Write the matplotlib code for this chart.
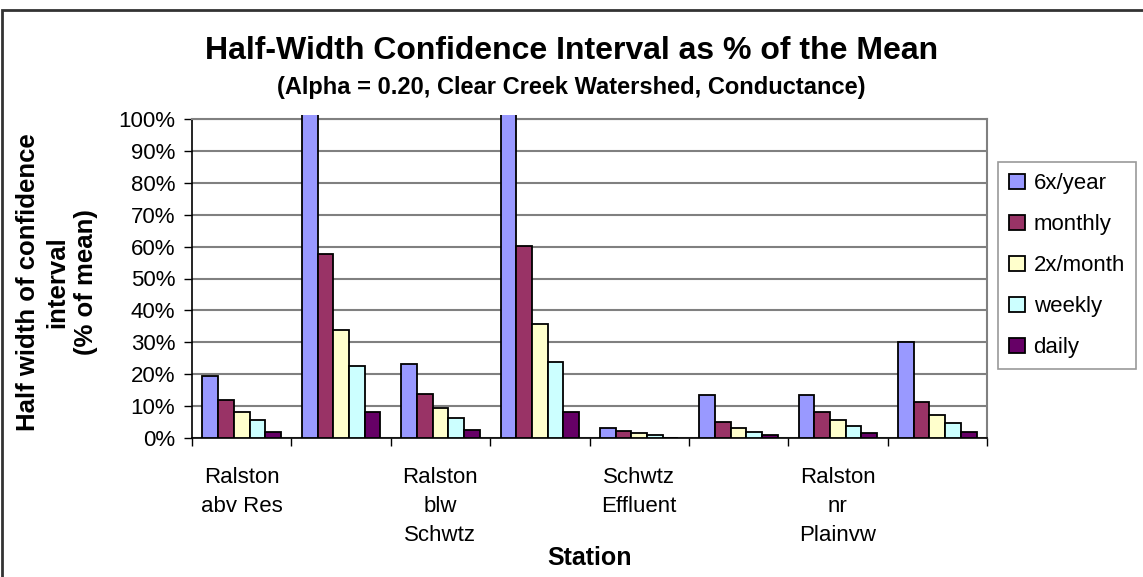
import numpy as np
import matplotlib.pyplot as plt
from matplotlib.patches import Rectangle

# stations (only every other name is printed on the axis)
stations = ['Ralston\nabv Res', '', 'Ralston\nblw\nSchwtz', '', 'Schwtz\nEffluent', '', 'Ralston\nnr\nPlainvw', '']
frequencies = ['6x/year', 'monthly', '2x/month', 'weekly', 'daily']

# half-width of the confidence interval, fraction of the mean
six_per_year = [0.194, 1.50, 0.232, 1.50, 0.032, 0.134, 0.134, 0.302]
monthly = [0.119, 0.577, 0.138, 0.602, 0.021, 0.051, 0.082, 0.113]
twice_month = [0.082, 0.339, 0.095, 0.357, 0.015, 0.032, 0.057, 0.071]
weekly = [0.056, 0.227, 0.064, 0.238, 0.009, 0.020, 0.039, 0.046]
daily = [0.020, 0.082, 0.025, 0.082, 0.0, 0.008, 0.015, 0.020]

series = [six_per_year, monthly, twice_month, weekly, daily]
colors = ['#9999FF', '#993366', '#FFFFCC', '#CCFFFF', '#660066']

plt.rcParams['font.family'] = ['Liberation Sans', 'DejaVu Sans']

fig = plt.figure(figsize=(11.43, 5.77), dpi=100)
ax = fig.add_axes([192/1143, 1 - 438/577, (987 - 192)/1143, (438 - 119)/577])

# bars that run past 100% get cut just above the plot area
clip = Rectangle((0, 0), 1, 1.013, transform=ax.transAxes)

x = np.arange(len(stations))
w = 0.158
for i, (vals, c, lab) in enumerate(zip(series, colors, frequencies)):
    bars = ax.bar(x + (i - 2) * w, vals, w, color=c, edgecolor='black',
                  linewidth=1.3, label=lab, zorder=3)
    for b in bars:
        b.set_clip_path(clip)

ax.set_xlim(-0.5, len(stations) - 0.5)
ax.set_ylim(0, 1)
ax.set_yticks(np.arange(0, 1.01, 0.1))
ax.set_yticklabels(['%d%%' % v for v in range(0, 101, 10)], fontsize=16)
ax.yaxis.grid(True, color='#808080', linewidth=1.5, zorder=0)

ax.set_xticks(np.arange(-0.5, len(stations)), minor=False)
ax.set_xticklabels([])
ax.set_xticks(x, minor=True)
ax.set_xticklabels(stations, minor=True, fontsize=16, linespacing=1.5, va='top')
ax.tick_params(axis='x', which='minor', length=0, pad=21)
ax.tick_params(axis='x', which='major', length=6, width=1, direction='out')
ax.tick_params(axis='y', length=6, width=1, direction='out', pad=6)

for s in ['left', 'bottom']:
    ax.spines[s].set_color('black')
    ax.spines[s].set_linewidth(1.2)
for s in ['right', 'top']:
    ax.spines[s].set_color('#808080')
    ax.spines[s].set_linewidth(1.5)

fig.text(0.5, 1 - 51/577, 'Half-Width Confidence Interval as % of the Mean',
         ha='center', va='center', fontsize=23, fontweight='bold')
fig.text(0.5, 1 - 87/577, '(Alpha = 0.20, Clear Creek Watershed, Conductance)',
         ha='center', va='center', fontsize=17, fontweight='bold')
fig.text(589.5/1143, 1 - 558/577, 'Station', ha='center', va='center',
         fontsize=18, fontweight='bold')
fig.text(57/1143, 1 - 282/577, 'Half width of confidence\ninterval\n(% of mean)',
         ha='center', va='center', rotation=90, fontsize=18.5, fontweight='bold',
         linespacing=1.25)

leg = fig.legend(loc='upper left', bbox_to_anchor=(998/1143, 1 - 162/577),
                 fontsize=16, frameon=True, fancybox=False, edgecolor='#808080',
                 handlelength=0.7, handleheight=0.7, handletextpad=0.4,
                 labelspacing=0.9, borderpad=0.5, borderaxespad=0)
leg.get_frame().set_linewidth(1.2)

# outer chart border
fig.patches.append(Rectangle((2/1143, -0.1), 1.2, 1 - 10/577 + 0.1,
                             transform=fig.transFigure, fill=False,
                             edgecolor='#333333', linewidth=2))

fig.savefig('out.png', dpi=100)
